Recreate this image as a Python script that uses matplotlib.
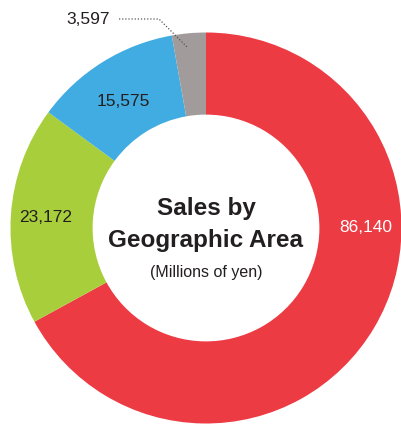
import numpy as np
import matplotlib.pyplot as plt

regions = ['Other', 'Asia', 'Europe', 'Americas']
sales = [86140, 23172, 15575, 3597]
labels = ['86,140', '23,172', '15,575', '3,597']
colors = ['#ED3B44', '#A9CE3B', '#41ACE1', '#A19C9B']

plt.rcParams['font.family'] = ['Liberation Sans', 'DejaVu Sans']

fig = plt.figure(figsize=(4.01, 4.24), dpi=100)
ax = fig.add_axes([0, 0, 1, 1])

cx, cy, r = 206, 196, 195.5
wedges, _ = ax.pie(sales, colors=colors, startangle=90, counterclock=False,
                   radius=r, center=(cx, cy), frame=True,
                   wedgeprops=dict(width=r * 0.42, linewidth=0))
ax.set_xlim(0, 401)
ax.set_ylim(0, 424)
ax.set_aspect('equal')
ax.axis('off')

# labels
ax.text(366, 424 - 228, labels[0], color='white', fontsize=12.5, ha='center', va='center')
ax.text(46, 424 - 218, labels[1], color='#231F20', fontsize=12.5, ha='center', va='center')
ax.text(123, 424 - 101, labels[2], color='#231F20', fontsize=12.5, ha='center', va='center')
ax.text(88, 424 - 20, labels[3], color='#231F20', fontsize=12.5, ha='center', va='center')
ax.plot([119, 159, 188], [424 - 19, 424 - 19, 424 - 48], color='#555555', lw=0.9, ls=(0, (1, 1.5)))

ax.text(cx, 424 - 208, 'Sales by', fontsize=17.5, fontweight='bold', color='#231F20', ha='center', va='center')
ax.text(cx, 424 - 240, 'Geographic Area', fontsize=17.5, fontweight='bold', color='#231F20', ha='center', va='center')
ax.text(cx, 424 - 272, '(Millions of yen)', fontsize=11.5, color='#231F20', ha='center', va='center')

fig.savefig('out.png', dpi=100)
